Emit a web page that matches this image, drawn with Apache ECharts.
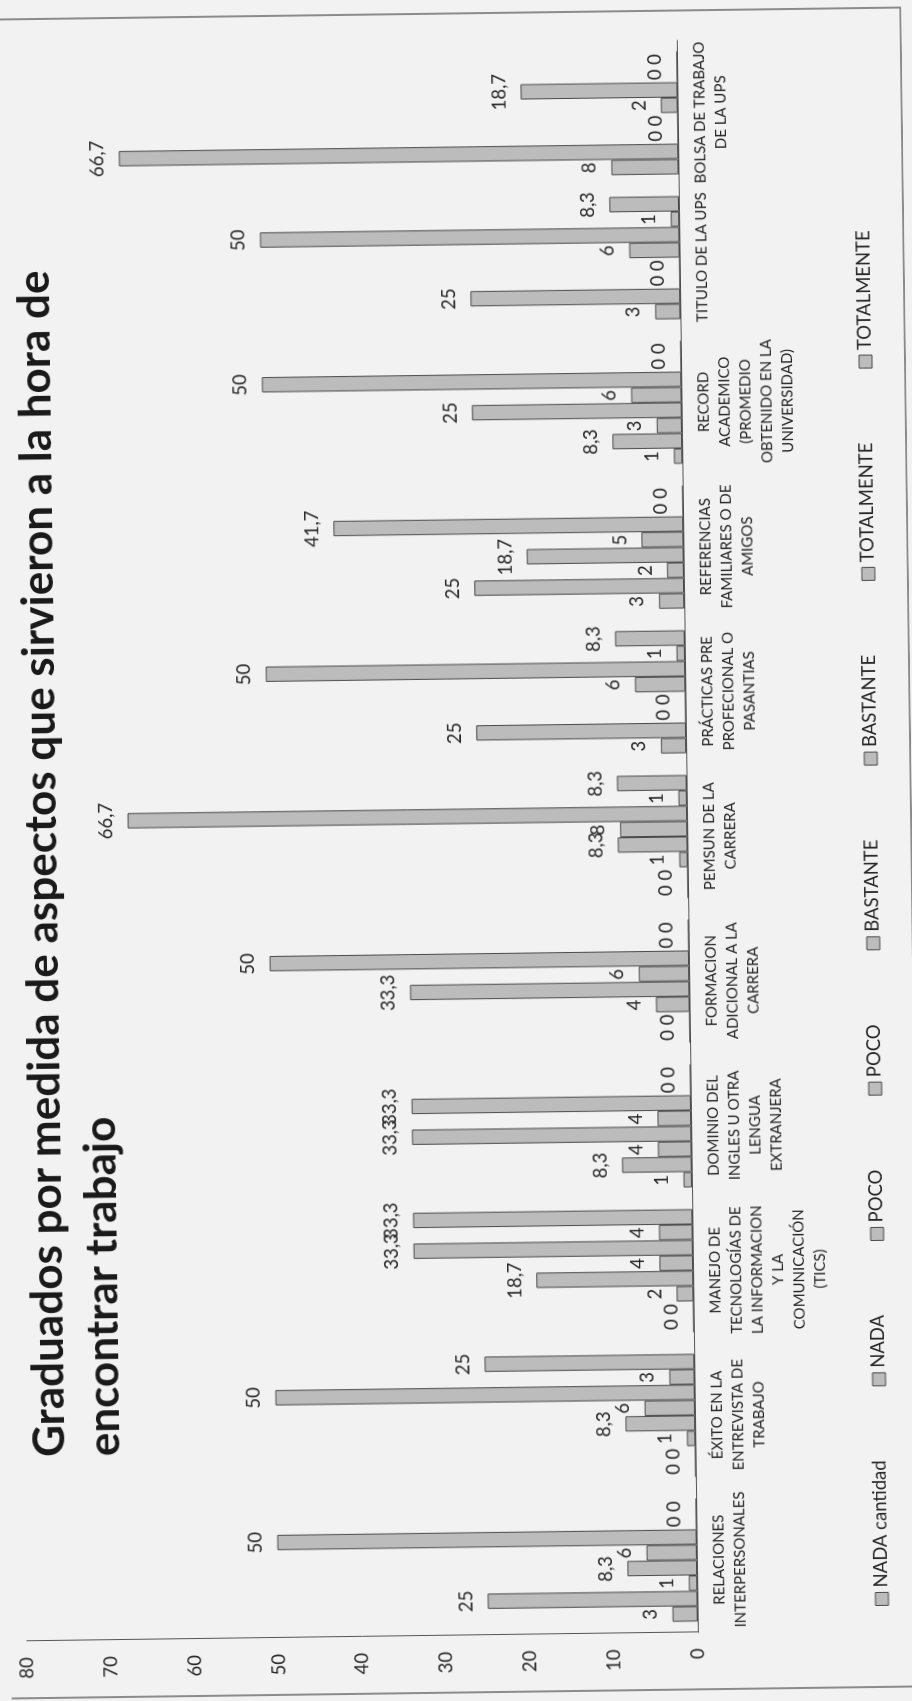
<!DOCTYPE html>
<html>
<head>
<meta charset="utf-8">
<script src="https://cdn.jsdelivr.net/npm/echarts@6/dist/echarts.min.js"></script>
<style>
  html, body { margin: 0; padding: 0; width: 912px; height: 1701px; overflow: hidden; background: #f2f2f2; }
  #wrap { position: absolute; width: 1701px; height: 912px; left: -394.5px; top: 394.5px;
          transform-origin: 50% 50%; transform: rotate(-90.76deg); }
</style>
</head>
<body>
<div id="wrap"></div>
<script>
// ---- data ----
const categories = [
  'RELACIONES\nINTERPERSONALES',
  'ÉXITO EN LA\nENTREVISTA DE\nTRABAJO',
  'MANEJO DE\nTECNOLOGÍAS DE\nLA INFORMACION\nY LA\nCOMUNICACIÓN\n(TICS)',
  'DOMINIO DEL\nINGLES U OTRA\nLENGUA\nEXTRANJERA',
  'FORMACION\nADICIONAL A LA\nCARRERA',
  'PEMSUN DE LA\nCARRERA',
  'PRÁCTICAS PRE\nPROFECIONAL O\nPASANTIAS',
  'REFERENCIAS\nFAMILIARES O DE\nAMIGOS',
  'RECORD\nACADEMICO\n(PROMEDIO\nOBTENIDO EN LA\nUNIVERSIDAD)',
  'TITULO DE LA UPS',
  'BOLSA DE TRABAJO\nDE LA UPS'
];
const nadaCantidad       = [3, 0, 0, 1, 0, 0, 3, 3, 1, 3, 8];
const nadaPct            = [25, 0, 0, 8.3, 0, 0, 25, 25, 8.3, 25, 66.7];
const pocoCantidad       = [1, 1, 2, 4, 4, 1, 0, 2, 3, 0, 0];
const pocoPct            = [8.3, 8.3, 18.7, 33.3, 33.3, 8.3, 0, 18.7, 25, 0, 0];
const bastanteCantidad   = [6, 6, 4, 4, 6, 8, 6, 5, 6, 6, 2];
const bastantePct        = [50, 50, 33.3, 33.3, 50, 66.7, 50, 41.7, 50, 50, 18.7];
const totalmenteCantidad = [0, 3, 4, 0, 0, 1, 1, 0, 0, 1, 0];
const totalmentePct      = [0, 25, 33.3, 0, 0, 8.3, 8.3, 0, 0, 8.3, 0];
const seriesNames = ['NADA cantidad', 'NADA', 'POCO', 'POCO\u200B', 'BASTANTE', 'BASTANTE\u200B', 'TOTALMENTE', 'TOTALMENTE\u200B'];
const seriesData = [nadaCantidad, nadaPct, pocoCantidad, pocoPct, bastanteCantidad, bastantePct, totalmenteCantidad, totalmentePct];
const titleText = 'Graduados por medida de aspectos que sirvieron a la hora de\nencontrar trabajo';
const valueTicks = { min: 0, max: 80, interval: 10 };

// ---- chart ----
const FONT = 'Lato, "Open Sans", sans-serif';
const chart = echarts.init(document.getElementById('wrap'), null, { renderer: 'canvas' });

const series = seriesNames.map((name, i) => ({
  name: name,
  type: 'bar',
  data: seriesData[i],
  barGap: '0%',
  barCategoryGap: '15%',
  itemStyle: { color: '#bcbcbc', borderColor: '#4a4a4a', borderWidth: 1 },
  label: {
    show: true,
    position: 'top',
    distance: 12,
    fontFamily: FONT,
    fontSize: 18.5,
    color: '#262626',
    formatter: p => String(p.value).replace('.', ',')
  },
  emphasis: { disabled: true },
  animation: false
}));

chart.setOption({
  backgroundColor: '#f2f2f2',
  animation: false,
  title: {
    text: titleText,
    left: 245,
    top: 9,
    textStyle: { fontFamily: FONT, fontWeight: 'bold', fontSize: 44, lineHeight: 55, color: '#1a1a1a' }
  },
  legend: {
    data: seriesNames,
    left: 90,
    top: 862,
    padding: 0,
    itemWidth: 13,
    itemHeight: 13,
    itemGap: 74,
    icon: 'rect',
    itemStyle: { color: '#bcbcbc', borderColor: '#4a4a4a', borderWidth: 1 },
    textStyle: { fontFamily: FONT, fontSize: 18.5, color: '#262626' }
  },
  grid: { left: 66, right: 43, top: 16, bottom: 225, containLabel: false },
  xAxis: {
    type: 'category',
    data: categories,
    axisLine: { show: true, lineStyle: { color: '#555', width: 1 } },
    axisTick: { show: false },
    axisLabel: { interval: 0, margin: 12, fontFamily: FONT, fontSize: 15, lineHeight: 21, color: '#262626' }
  },
  yAxis: {
    type: 'value',
    min: valueTicks.min,
    max: valueTicks.max,
    interval: valueTicks.interval,
    splitLine: { show: false },
    axisLine: { show: true, lineStyle: { color: '#555', width: 1 } },
    axisTick: { show: false },
    axisLabel: { margin: 16, fontFamily: FONT, fontSize: 18.5, color: '#262626' }
  },
  graphic: [{
    type: 'rect',
    silent: true,
    shape: { x: 9, y: -5, width: 1679, height: 916 },
    style: { fill: 'none', stroke: '#6a6a6a', lineWidth: 1.5 }
  }],
  series: series
});
</script>
</body>
</html>
